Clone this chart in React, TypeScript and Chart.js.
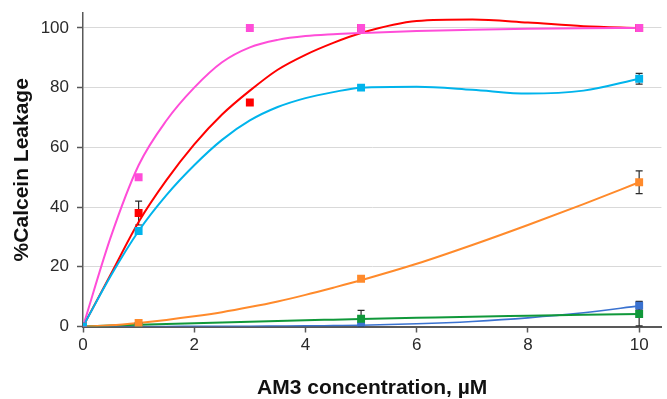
import React, { useEffect, useRef } from "react";
import { Chart, registerables } from "chart.js";

Chart.register(...registerables);

// Measured points
const magentaX = [0, 1, 3, 5, 10];
const magentaY = [0, 50, 100, 100, 100];
const magentaErr = [0, 0, 0, 0, 0];

const redX = [0, 1, 3, 5, 10];
const redY = [0, 38, 75, 100, 100];
const redErr = [0, 4, 0, 0, 0];

const cyanX = [0, 1, 5, 10];
const cyanY = [0, 32, 80, 83];
const cyanErr = [0, 0, 0.8, 1.8];

const orangeX = [0, 1, 5, 10];
const orangeY = [0, 1.2, 16, 48.3];
const orangeErr = [0, 0, 0, 3.8];

const greenX = [0, 1, 5, 10];
const greenY = [0, 0, 2.6, 4.2];
const greenErr = [0, 0, 2.8, 4];

const blueX = [0, 1, 5, 10];
const blueY = [0, 0, 0.3, 7];
const blueErr = [0, 0, 0, 1.4];

// Trendline curves
const curveX = [0, 0.5, 1, 1.5, 2, 2.5, 3, 3.5, 4, 4.5, 5, 6, 7, 8, 9, 10];
const magentaCurve = [0, 30, 54, 69, 80, 88.5, 93.5, 96, 97.3, 97.9, 98.3, 99, 99.4, 99.7, 99.9, 100];
const redCurve = [0, 17.5, 35, 49, 61, 71, 79, 86, 91, 95, 98.3, 102.3, 102.8, 101.8, 100.6, 100];
const cyanCurve = [0, 17, 32, 44, 54, 62.5, 69, 73.5, 76.5, 78.5, 80, 80.3, 79.3, 78, 79, 83];
const orangeCurve = [0, 0.4, 1.2, 2.2, 3.4, 4.8, 6.5, 8.4, 10.6, 13, 15.5, 21, 27.3, 34, 41, 48.3];
const greenCurve = [0, 0.3, 0.6, 0.85, 1.1, 1.35, 1.6, 1.85, 2.1, 2.3, 2.5, 2.9, 3.3, 3.6, 3.9, 4.2];
const blueCurve = [0, 0, 0, 0, 0.05, 0.08, 0.1, 0.15, 0.2, 0.3, 0.4, 0.9, 1.7, 2.9, 4.6, 6.9];

const yTicks = [0, 20, 40, 60, 80, 100];
const xTicks = [0, 2, 4, 6, 8, 10];

const COLORS = {
  magenta: "#FF4DD8",
  red: "#FF0000",
  cyan: "#00B4EC",
  orange: "#FF8A2B",
  green: "#10983A",
  blue: "#3A72D0",
};

const FONT = "'Liberation Sans', Arial, sans-serif";

const series = [
  { key: "cyan", x: cyanX, y: cyanY, err: cyanErr, curve: cyanCurve, w: 2 },
  { key: "magenta", x: magentaX, y: magentaY, err: magentaErr, curve: magentaCurve, w: 2 },
  { key: "red", x: redX, y: redY, err: redErr, curve: redCurve, w: 2 },
  { key: "orange", x: orangeX, y: orangeY, err: orangeErr, curve: orangeCurve, w: 2 },
  { key: "green", x: greenX, y: greenY, err: greenErr, curve: greenCurve, w: 2 },
  { key: "blue", x: blueX, y: blueY, err: blueErr, curve: blueCurve, w: 1.6 },
];

const errorBarPlugin = {
  id: "errorBars",
  beforeDatasetsDraw(chart: any) {
    const { ctx, scales } = chart;
    const xs = scales.x;
    const ys = scales.y;
    ctx.save();
    ctx.strokeStyle = "#2b2b2b";
    ctx.lineWidth = 1.2;
    series.forEach((s) => {
      s.x.forEach((xv: number, i: number) => {
        const e = s.err[i];
        if (!e) return;
        const px = xs.getPixelForValue(xv);
        const top = ys.getPixelForValue(s.y[i] + e);
        const bot = ys.getPixelForValue(Math.max(0, s.y[i] - e));
        ctx.beginPath();
        ctx.moveTo(px, top);
        ctx.lineTo(px, bot);
        ctx.moveTo(px - 3.5, top);
        ctx.lineTo(px + 3.5, top);
        ctx.moveTo(px - 3.5, bot);
        ctx.lineTo(px + 3.5, bot);
        ctx.stroke();
      });
    });
    ctx.restore();
  },
};

export default function App() {
  const ref = useRef<HTMLCanvasElement | null>(null);

  useEffect(() => {
    if (!ref.current) return;
    const datasets: any[] = [];
    series.forEach((s) => {
      const color = (COLORS as any)[s.key];
      datasets.push({
        label: s.key + " points",
        data: s.x.map((xv: number, i: number) => ({ x: xv, y: s.y[i] })),
        showLine: false,
        pointStyle: "rect",
        pointRadius: 5.6,
        pointBorderWidth: 0,
        backgroundColor: color,
        borderColor: color,
        order: 0,
      });
      datasets.push({
        label: s.key + " trend",
        data: curveX.map((xv, i) => ({ x: xv, y: s.curve[i] })),
        showLine: true,
        pointRadius: 0,
        borderColor: color,
        borderWidth: s.w,
        cubicInterpolationMode: "monotone",
        order: 1,
      });
    });

    const chart = new Chart(ref.current, {
      type: "scatter",
      data: { datasets },
      plugins: [errorBarPlugin],
      options: {
        animation: false,
        responsive: true,
        maintainAspectRatio: false,
        layout: { padding: { top: 13, left: 0, right: 0, bottom: 0 } },
        plugins: { legend: { display: false }, tooltip: { enabled: false } },
        scales: {
          x: {
            type: "linear",
            min: 0,
            max: 10.4,
            afterFit: (s: any) => {
              s.height = 72.5;
              s.paddingLeft = 0;
              s.paddingRight = 0;
            },
            afterBuildTicks: (s: any) => {
              s.ticks = xTicks.map((v) => ({ value: v }));
            },
            ticks: {
              font: { family: FONT, size: 17 },
              color: "#2a2a2a",
              padding: 3,
              maxRotation: 0,
            },
            grid: {
              drawOnChartArea: false,
              drawTicks: true,
              tickLength: 6,
              tickColor: "#595959",
              tickWidth: 1.5,
            },
            border: { color: "#595959", width: 2 },
            title: {
              display: true,
              text: "AM3 concentration, µM",
              font: { family: FONT, size: 21, weight: "bold", lineHeight: 1 },
              color: "#111111",
              padding: { top: 0, bottom: 0 },
            },
          },
          y: {
            type: "linear",
            min: 0,
            max: 105,
            afterFit: (s: any) => {
              s.width = 83;
              s.paddingTop = 0;
              s.paddingBottom = 0;
            },
            afterBuildTicks: (s: any) => {
              s.ticks = yTicks.map((v) => ({ value: v }));
            },
            ticks: {
              font: { family: FONT, size: 17 },
              color: "#2a2a2a",
              padding: 8,
            },
            grid: {
              color: (c: any) => (c.tick && c.tick.value === 0 ? "rgba(0,0,0,0)" : "#D9D9D9"),
              lineWidth: 1,
              drawTicks: true,
              tickLength: 6,
              tickColor: "#595959",
              tickWidth: 1.5,
            },
            border: { color: "#595959", width: 1.5 },
            title: {
              display: true,
              text: "%Calcein Leakage",
              font: { family: FONT, size: 21, weight: "bold", lineHeight: 1 },
              color: "#111111",
              padding: { top: 11.5, bottom: 0 },
            },
          },
        },
      },
    });
    return () => chart.destroy();
  }, []);

  return (
    <div style={{ position: "absolute", left: 0, top: 0, width: 667, height: 399 }}>
      <canvas ref={ref} />
    </div>
  );
}
